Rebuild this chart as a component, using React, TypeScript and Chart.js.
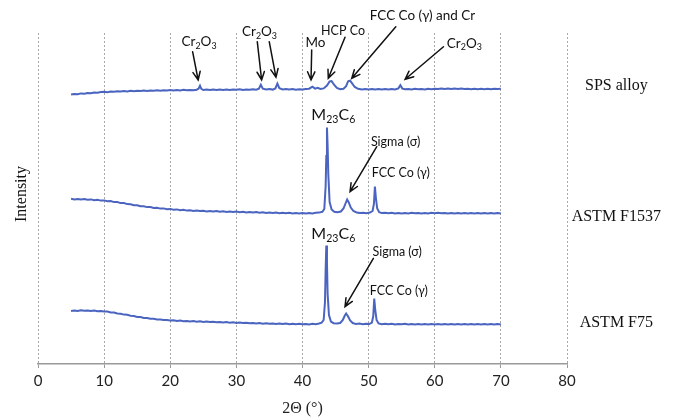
import React, { useEffect, useRef } from "react";
import { Chart, registerables } from "chart.js";

Chart.register(...registerables);

// ---- Data (2θ in degrees, intensity in arbitrary units, traces already offset) ----
const xMin = 0;
const xMax = 80;
const xStep = 10;
const yMin = 0;
const yMax = 331;

const spsScan: [number, number][] = [
  [5.0, 269.4], [5.5, 270.1], [6.0, 269.8], [6.5, 270.6], [7.0, 270.3], [7.5, 271.0], [8.0, 270.8], [8.5, 271.5],
  [9.0, 271.2], [9.5, 271.9], [10.0, 272.3], [10.5, 271.8], [11.0, 272.5], [11.5, 272.2], [12.0, 272.8], [12.5, 272.4],
  [13.0, 273.0], [13.5, 272.6], [14.0, 273.2], [14.5, 272.8], [15.0, 273.3], [15.5, 272.9], [16.0, 273.5], [16.5, 273.0],
  [17.0, 273.6], [17.5, 273.2], [18.0, 273.8], [18.5, 273.3], [19.0, 273.7], [19.5, 273.4], [20.0, 274.0], [20.5, 273.5],
  [21.0, 274.1], [21.5, 273.6], [22.0, 274.2], [22.5, 273.7], [23.0, 274.0], [23.5, 273.8], [24.0, 274.3], [24.3, 275.5],
  [24.5, 278.3], [24.7, 275.2], [25.0, 274.0], [25.5, 274.4], [26.0, 273.9], [26.5, 274.5], [27.0, 274.0], [27.5, 274.6],
  [28.0, 274.1], [28.5, 274.5], [29.0, 274.0], [29.5, 274.6], [30.0, 274.2], [30.5, 274.7], [31.0, 274.1], [31.5, 274.6],
  [32.0, 274.2], [32.5, 274.8], [33.0, 274.3], [33.4, 275.2], [33.7, 279.3], [34.0, 275.4], [34.5, 274.5], [35.0, 274.9],
  [35.5, 274.4], [35.9, 275.6], [36.2, 280.5], [36.5, 275.8], [37.0, 274.6], [37.5, 275.0], [38.0, 274.4], [38.5, 274.9],
  [39.0, 274.3], [39.5, 274.8], [40.0, 274.4], [40.5, 274.9], [41.0, 275.3], [41.5, 277.4], [41.9, 275.4], [42.3, 276.2],
  [42.7, 275.0], [43.2, 275.6], [43.7, 278.5], [44.1, 282.6], [44.4, 282.9], [44.8, 279.0], [45.2, 276.0], [45.7, 274.8],
  [46.2, 275.3], [46.6, 277.8], [46.9, 282.8], [47.2, 283.4], [47.5, 280.6], [47.9, 277.0], [48.4, 275.2], [49.0, 274.6],
  [49.5, 275.0], [50.0, 274.5], [50.5, 275.1], [51.0, 274.6], [51.5, 275.0], [52.0, 274.4], [52.5, 274.9], [53.0, 274.5],
  [53.5, 275.0], [54.0, 274.6], [54.5, 275.6], [54.8, 278.8], [55.1, 275.4], [55.5, 274.7], [56.0, 275.1], [56.5, 274.6],
  [57.0, 275.2], [57.5, 274.7], [58.0, 275.1], [58.5, 274.6], [59.0, 275.2], [59.5, 274.8], [60.0, 275.3], [60.5, 274.9],
  [61.0, 275.5], [61.5, 275.0], [62.0, 275.6], [62.5, 275.1], [63.0, 275.5], [63.5, 275.0], [64.0, 275.4], [64.5, 274.9],
  [65.0, 275.3], [65.5, 274.8], [66.0, 275.3], [66.5, 274.8], [67.0, 275.2], [67.5, 274.7], [68.0, 275.2], [68.5, 274.8],
  [69.0, 275.3], [69.5, 274.9], [70.0, 275.2],
];

const f1537Scan: [number, number][] = [
  [5.0, 165.2], [5.5, 164.6], [6.0, 165.1], [6.5, 164.4], [7.0, 164.9], [7.5, 164.2], [8.0, 164.6], [8.5, 163.8],
  [9.0, 164.2], [9.5, 163.4], [10.0, 163.6], [10.5, 162.7], [11.0, 162.9], [11.5, 161.9], [12.0, 161.9], [12.5, 160.9],
  [13.0, 161.0], [13.5, 159.9], [14.0, 159.8], [14.5, 158.7], [15.0, 158.8], [15.5, 157.7], [16.0, 157.8], [16.5, 156.9],
  [17.0, 157.0], [17.5, 156.1], [18.0, 156.3], [18.5, 155.4], [19.0, 155.6], [19.5, 154.8], [20.0, 155.1], [20.5, 154.2],
  [21.0, 154.6], [21.5, 153.8], [22.0, 154.2], [22.5, 153.4], [23.0, 153.8], [23.5, 153.1], [24.0, 153.6], [24.5, 152.9],
  [25.0, 153.3], [25.5, 152.6], [26.0, 153.1], [26.5, 152.4], [27.0, 152.9], [27.5, 152.2], [28.0, 152.7], [28.5, 152.0],
  [29.0, 152.5], [29.5, 151.9], [30.0, 152.4], [30.5, 151.7], [31.0, 152.2], [31.5, 151.5], [32.0, 152.0], [32.5, 151.4],
  [33.0, 151.9], [33.5, 151.2], [34.0, 151.7], [34.5, 151.1], [35.0, 151.6], [35.5, 151.0], [36.0, 151.5], [36.5, 150.8],
  [37.0, 151.3], [37.5, 150.7], [38.0, 151.2], [38.5, 150.6], [39.0, 151.1], [39.5, 150.5], [40.0, 151.0], [40.5, 150.5],
  [41.0, 151.1], [41.5, 150.6], [42.0, 151.2], [42.5, 151.4], [43.0, 152.2], [43.3, 155.0], [43.5, 178.0], [43.6, 208.0],
  [43.7, 236.5], [43.8, 218.0], [43.9, 190.0], [44.1, 162.0], [44.4, 154.5], [44.8, 152.2], [45.3, 151.8], [45.8, 152.5],
  [46.2, 155.5], [46.5, 160.5], [46.75, 164.5], [47.0, 161.5], [47.3, 156.5], [47.7, 153.0], [48.2, 151.4], [48.7, 150.9],
  [49.2, 151.2], [49.7, 150.8], [50.2, 151.4], [50.6, 153.0], [50.8, 160.0], [50.95, 177.5], [51.1, 166.0], [51.3, 155.5],
  [51.6, 151.8], [52.0, 150.9], [52.5, 151.3], [53.0, 150.7], [53.5, 151.2], [54.0, 150.6], [54.5, 151.1], [55.0, 150.5],
  [55.5, 151.0], [56.0, 150.6], [56.5, 151.2], [57.0, 150.7], [57.5, 151.1], [58.0, 150.5], [58.5, 151.0], [59.0, 150.6],
  [59.5, 151.2], [60.0, 150.8], [60.5, 151.3], [61.0, 150.7], [61.5, 151.1], [62.0, 150.6], [62.5, 151.0], [63.0, 150.5],
  [63.5, 151.1], [64.0, 150.6], [64.5, 151.0], [65.0, 150.4], [65.5, 150.9], [66.0, 150.5], [66.5, 151.0], [67.0, 150.4],
  [67.5, 150.9], [68.0, 150.5], [68.5, 151.0], [69.0, 150.6], [69.5, 151.0], [70.0, 150.6],
];

const f75Scan: [number, number][] = [
  [5.0, 53.0], [5.5, 53.6], [6.0, 53.1], [6.5, 53.7], [7.0, 53.2], [7.5, 53.6], [8.0, 52.9], [8.5, 53.4],
  [9.0, 52.7], [9.5, 53.1], [10.0, 52.4], [10.5, 52.5], [11.0, 51.6], [11.5, 51.4], [12.0, 50.5], [12.5, 50.3],
  [13.0, 49.4], [13.5, 49.2], [14.0, 48.3], [14.5, 48.0], [15.0, 47.1], [15.5, 46.9], [16.0, 46.1], [16.5, 46.0],
  [17.0, 45.2], [17.5, 45.2], [18.0, 44.5], [18.5, 44.6], [19.0, 43.9], [19.5, 44.1], [20.0, 43.5], [20.5, 43.7],
  [21.0, 43.1], [21.5, 43.4], [22.0, 42.8], [22.5, 43.1], [23.0, 42.5], [23.5, 42.9], [24.0, 42.3], [24.5, 42.7],
  [25.0, 42.1], [25.5, 42.5], [26.0, 41.9], [26.5, 42.3], [27.0, 41.7], [27.5, 42.1], [28.0, 41.5], [28.5, 41.9],
  [29.0, 41.3], [29.5, 41.7], [30.0, 41.1], [30.5, 41.5], [31.0, 40.9], [31.5, 41.3], [32.0, 40.7], [32.5, 41.1],
  [33.0, 40.5], [33.5, 40.9], [34.0, 40.3], [34.5, 40.8], [35.0, 40.2], [35.5, 40.6], [36.0, 40.0], [36.5, 40.5],
  [37.0, 39.9], [37.5, 40.4], [38.0, 39.8], [38.5, 40.3], [39.0, 39.7], [39.5, 40.2], [40.0, 39.7], [40.5, 40.1],
  [41.0, 39.6], [41.5, 40.2], [42.0, 39.8], [42.5, 40.5], [42.9, 41.3], [43.2, 44.0], [43.4, 62.0], [43.5, 94.0],
  [43.6, 118.5], [43.7, 101.0], [43.8, 70.0], [44.0, 49.0], [44.3, 42.5], [44.7, 40.8], [45.2, 40.4], [45.7, 41.0],
  [46.1, 44.0], [46.4, 48.5], [46.6, 50.5], [46.9, 47.5], [47.2, 43.5], [47.6, 41.0], [48.1, 39.9], [48.6, 40.4],
  [49.1, 39.8], [49.6, 40.3], [50.1, 40.0], [50.5, 41.5], [50.7, 48.0], [50.85, 65.5], [51.0, 54.0], [51.2, 44.0],
  [51.5, 40.6], [52.0, 39.8], [52.5, 40.3], [53.0, 39.7], [53.5, 40.2], [54.0, 39.6], [54.5, 40.1], [55.0, 39.7],
  [55.5, 40.2], [56.0, 39.6], [56.5, 40.1], [57.0, 39.5], [57.5, 40.0], [58.0, 39.6], [58.5, 40.1], [59.0, 39.5],
  [59.5, 40.0], [60.0, 39.4], [60.5, 39.9], [61.0, 39.5], [61.5, 40.0], [62.0, 39.4], [62.5, 39.9], [63.0, 39.5],
  [63.5, 40.0], [64.0, 39.6], [64.5, 40.1], [65.0, 39.5], [65.5, 40.0], [66.0, 39.4], [66.5, 39.9], [67.0, 39.5],
  [67.5, 40.0], [68.0, 39.6], [68.5, 40.1], [69.0, 39.5], [69.5, 40.0], [70.0, 39.6],
];

// ---- Labels (positions in data units: 2θ, intensity) ----
type Seg = { t: string; sub?: boolean };
type Note = { segs: Seg[]; x: number; y: number; size: number };
type Arrow = { x1: number; y1: number; x2: number; y2: number };

const CR2O3: Seg[] = [{ t: "Cr" }, { t: "2", sub: true }, { t: "O" }, { t: "3", sub: true }];
const M23C6: Seg[] = [{ t: "M" }, { t: "23", sub: true }, { t: "C" }, { t: "6", sub: true }];

const peakNotes: Note[] = [
  { segs: CR2O3, x: 24.36, y: 322.3, size: 13.5 },
  { segs: CR2O3, x: 33.5, y: 332.3, size: 13.5 },
  { segs: [{ t: "Mo" }], x: 41.97, y: 321.3, size: 13.5 },
  { segs: [{ t: "HCP Co" }], x: 46.13, y: 333.2, size: 12.5 },
  { segs: [{ t: "FCC Co (γ) and Cr" }], x: 58.14, y: 348.7, size: 13.5 },
  { segs: CR2O3, x: 64.48, y: 320.7, size: 13.5 },
  { segs: M23C6, x: 44.66, y: 249, size: 16 },
  { segs: [{ t: "Sigma (σ)" }], x: 54.08, y: 222, size: 12.5 },
  { segs: [{ t: "FCC Co (γ)" }], x: 54.88, y: 190.7, size: 12.5 },
  { segs: M23C6, x: 44.66, y: 130, size: 16 },
  { segs: [{ t: "Sigma (σ)" }], x: 54.31, y: 112.3, size: 12.5 },
  { segs: [{ t: "FCC Co (γ)" }], x: 54.56, y: 73.3, size: 12.5 },
];

const peakArrows: Arrow[] = [
  { x1: 23.38, y1: 312.3, x2: 24.22, y2: 284 },
  { x1: 33.16, y1: 322.3, x2: 33.82, y2: 284 },
  { x1: 34.97, y1: 322.3, x2: 35.99, y2: 286.7 },
  { x1: 41.39, y1: 314, x2: 41.29, y2: 284 },
  { x1: 46.43, y1: 326.7, x2: 43.9, y2: 285.7 },
  { x1: 54.11, y1: 337.3, x2: 47.45, y2: 285.7 },
  { x1: 61.32, y1: 317.3, x2: 55.52, y2: 284.7 },
  { x1: 51.23, y1: 217.3, x2: 47.19, y2: 172.3 },
  { x1: 50.72, y1: 105.7, x2: 46.43, y2: 57.3 },
];

const sampleNames = ["SPS alloy", "ASTM F1537", "ASTM F75"];
const sampleNameX = 87.46;
const sampleNameY = [278, 147, 41.5];
const yTitle = "Intensity";
const yTitlePos = { x: -2.51, y: 170 };
const xTitle = "2Θ (°)";

const LINE_COLOR = "#4a64c0";
const SANS = "Lato, 'Open Sans', sans-serif";
const SERIF = "'Liberation Serif', 'DejaVu Serif', serif";

function drawRich(ctx: CanvasRenderingContext2D, segs: Seg[], cx: number, cy: number, size: number) {
  const subSize = size * 0.66;
  let total = 0;
  const widths: number[] = [];
  for (const s of segs) {
    ctx.font = `${s.sub ? subSize : size}px ${SANS}`;
    const w = ctx.measureText(s.t).width;
    widths.push(w);
    total += w;
  }
  let x = cx - total / 2;
  ctx.textAlign = "left";
  ctx.textBaseline = "middle";
  segs.forEach((s, i) => {
    ctx.font = `${s.sub ? subSize : size}px ${SANS}`;
    ctx.fillText(s.t, x, s.sub ? cy + size * 0.3 : cy);
    x += widths[i];
  });
}

function drawArrow(ctx: CanvasRenderingContext2D, x1: number, y1: number, x2: number, y2: number) {
  const ang = Math.atan2(y2 - y1, x2 - x1);
  const head = 9;
  const spread = 0.42;
  ctx.beginPath();
  ctx.moveTo(x1, y1);
  ctx.lineTo(x2, y2);
  ctx.moveTo(x2 - head * Math.cos(ang - spread), y2 - head * Math.sin(ang - spread));
  ctx.lineTo(x2, y2);
  ctx.lineTo(x2 - head * Math.cos(ang + spread), y2 - head * Math.sin(ang + spread));
  ctx.stroke();
}

const annotationPlugin = {
  id: "xrdAnnotations",
  afterDraw(chart: any) {
    const { ctx } = chart;
    const xs = chart.scales.x;
    const ys = chart.scales.y;
    ctx.save();
    ctx.fillStyle = "#111";
    for (const n of peakNotes) {
      drawRich(ctx, n.segs, xs.getPixelForValue(n.x), ys.getPixelForValue(n.y), n.size);
    }
    ctx.strokeStyle = "#111";
    ctx.lineWidth = 1.5;
    ctx.lineCap = "round";
    ctx.lineJoin = "miter";
    for (const a of peakArrows) {
      drawArrow(
        ctx,
        xs.getPixelForValue(a.x1),
        ys.getPixelForValue(a.y1),
        xs.getPixelForValue(a.x2),
        ys.getPixelForValue(a.y2)
      );
    }
    ctx.font = `16px ${SERIF}`;
    ctx.textAlign = "center";
    ctx.textBaseline = "middle";
    sampleNames.forEach((name, i) => {
      ctx.fillText(name, xs.getPixelForValue(sampleNameX), ys.getPixelForValue(sampleNameY[i]));
    });
    ctx.translate(xs.getPixelForValue(yTitlePos.x), ys.getPixelForValue(yTitlePos.y));
    ctx.rotate(-Math.PI / 2);
    ctx.font = `16px ${SERIF}`;
    ctx.fillText(yTitle, 0, 0);
    ctx.restore();
  },
};

export default function App() {
  const ref = useRef<HTMLCanvasElement | null>(null);
  useEffect(() => {
    if (!ref.current) return;
    const mk = (scan: [number, number][], label: string) => ({
      label,
      data: scan.map(([x, y]) => ({ x, y })),
      borderColor: LINE_COLOR,
      borderWidth: 2,
      pointRadius: 0,
      tension: 0,
      fill: false,
    });
    const chart = new Chart(ref.current, {
      type: "line",
      data: {
        datasets: [mk(spsScan, sampleNames[0]), mk(f1537Scan, sampleNames[1]), mk(f75Scan, sampleNames[2])],
      },
      plugins: [annotationPlugin],
      options: {
        animation: false,
        responsive: false,
        layout: { padding: { left: 38, right: 111, top: 33, bottom: 0 } },
        plugins: { legend: { display: false }, tooltip: { enabled: false } },
        scales: {
          x: {
            type: "linear",
            min: xMin,
            max: xMax,
            ticks: {
              stepSize: xStep,
              font: { family: SANS, size: 15 },
              color: "#222",
              padding: 4,
              maxRotation: 0,
            },
            grid: {
              color: "#a8a8a8",
              lineWidth: 1,
              drawTicks: true,
              tickLength: 4,
              tickColor: "#999",
              tickWidth: 1,
            },
            border: { display: true, color: "#999", width: 1.5, dash: [2, 2] },
            title: {
              display: true,
              text: xTitle,
              font: { family: "Liberation Serif", size: 16 },
              color: "#222",
              padding: { top: 0, bottom: 0 },
            },
            afterFit: (s: any) => {
              s.height = 54;
            },
          },
          y: { type: "linear", display: false, min: yMin, max: yMax },
        },
      },
    } as any);
    return () => chart.destroy();
  }, []);
  return (
    <div style={{ position: "fixed", left: 0, top: 0, width: 678, height: 418, background: "#fff" }}>
      <canvas ref={ref} width={678} height={418} />
    </div>
  );
}
